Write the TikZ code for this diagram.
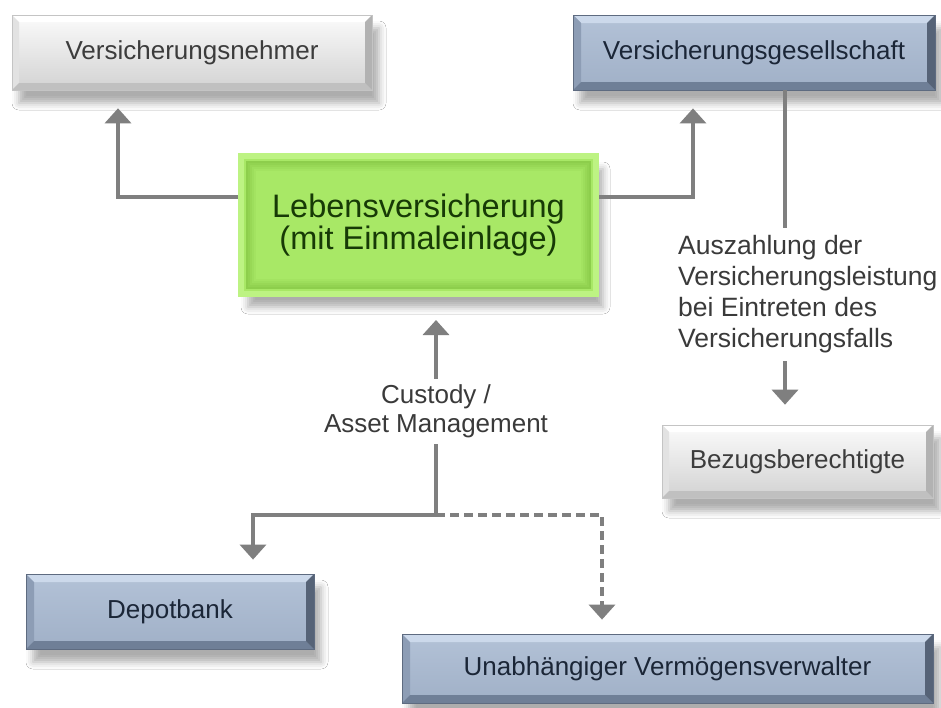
\documentclass[tikz,border=0pt]{standalone}
\usepackage{fontspec}
\setmainfont{Liberation Sans}
\usetikzlibrary{arrows.meta,calc,shadows.blur}
\definecolor{conngray}{HTML}{7F7F7F}
\definecolor{gTop}{HTML}{FBFBFB}
\definecolor{gBot}{HTML}{D2D2D2}
\definecolor{gEdge}{HTML}{C4C4C4}
\definecolor{gL}{HTML}{E2E2E2}
\definecolor{gB}{HTML}{C0C0C0}
\definecolor{gR}{HTML}{B2B2B2}
\definecolor{gText}{HTML}{3C3C3C}
\definecolor{bTop}{HTML}{B3C2D7}
\definecolor{bBot}{HTML}{A0B0C7}
\definecolor{bEdge}{HTML}{5E6B80}
\definecolor{bT}{HTML}{CCD9EB}
\definecolor{bL}{HTML}{8D9DB5}
\definecolor{bB}{HTML}{6F7F97}
\definecolor{bR}{HTML}{566377}
\definecolor{bText}{HTML}{1B2637}
\definecolor{lvGlow}{HTML}{BDF383}
\definecolor{lvEdge}{HTML}{A8E866}
\definecolor{lvFace}{HTML}{8DCE4C}
\definecolor{lvText}{HTML}{173A06}
\definecolor{lblText}{HTML}{3A3A3A}
\begin{document}
\begin{tikzpicture}[x=1pt,y=-1pt,
  conn/.style={draw=conngray, line width=3.5pt, -{Triangle[width=26pt,length=15pt]}},
  plainline/.style={draw=conngray, line width=3.5pt},
  softshadow/.style={blur shadow={shadow xshift=7pt, shadow yshift=-13pt, shadow blur radius=7pt, shadow opacity=32}},
  bevel/.style n args={5}{path picture={
    \coordinate (bnw) at (path picture bounding box.north west);
    \coordinate (bne) at (path picture bounding box.north east);
    \coordinate (bsw) at (path picture bounding box.south west);
    \coordinate (bse) at (path picture bounding box.south east);
    \fill[#2] (bnw) -- (bne) -- ([xshift=-#1,yshift=-#1]bne) -- ([xshift=#1,yshift=-#1]bnw) -- cycle;
    \fill[#3] (bnw) -- ([xshift=#1,yshift=-#1]bnw) -- ([xshift=#1,yshift=#1]bsw) -- (bsw) -- cycle;
    \fill[#4] (bsw) -- ([xshift=#1,yshift=#1]bsw) -- ([xshift=-#1,yshift=#1]bse) -- (bse) -- cycle;
    \fill[#5] (bne) -- (bse) -- ([xshift=-#1,yshift=#1]bse) -- ([xshift=-#1,yshift=-#1]bne) -- cycle;
  }},
  graybox/.style={rectangle, inner sep=0pt, top color=gTop, bottom color=gBot,
    draw=gEdge, line width=0.6pt, text=gText, font=\fontsize{26}{31}\selectfont,
    softshadow, bevel={7pt}{white}{gL}{gB}{gR}},
  bluebox/.style={rectangle, inner sep=0pt, top color=bTop, bottom color=bBot,
    draw=bEdge, line width=0.8pt, text=bText, font=\fontsize{26}{31}\selectfont,
    softshadow, bevel={8pt}{bT}{bL}{bB}{bR}},
  greenbox/.style={rectangle, inner sep=0pt, fill=lvEdge, draw=lvGlow, line width=6pt,
    text=lvText, font=\fontsize{32.5}{30}\selectfont, align=center, softshadow,
    path picture={
      \foreach \k [evaluate=\k as \m using 100-(\k-5)*10] in {5,7,...,15}{
        \fill[lvFace!\m!lvEdge] ([xshift=\k pt,yshift=-\k pt]path picture bounding box.north west) rectangle ([xshift=-\k pt,yshift=\k pt]path picture bounding box.south east);
      }
    }},
  lbl/.style={fill=white, text=lblText, inner xsep=4pt}
]
\fill[white] (0,0) rectangle (941,707);
\useasboundingbox (0,0) rectangle (941,707);

% boxes
\node[graybox, minimum width=360pt, minimum height=75pt] (VN) at (192,52.5) {Versicherungsnehmer};
\node[bluebox, minimum width=362pt, minimum height=75pt] (VG) at (754,52.5) {Versicherungsgesellschaft};
\node[greenbox, minimum width=355pt, minimum height=138pt] (LV) at (418.5,225) {Lebensversicherung\\(mit Einmaleinlage)};
\node[graybox, minimum width=271pt, minimum height=73pt] (BB) at (797.5,461.5) {Bezugsberechtigte};
\node[bluebox, minimum width=288pt, minimum height=75pt] (DB) at (170,611.5) {Depotbank};
\node[bluebox, minimum width=531pt, minimum height=69pt] (UV) at (667.5,668.5) {Unabhängiger Vermögensverwalter};

% labels
\node[lbl, align=left, anchor=north west, inner ysep=7.5pt, font=\fontsize{26.5}{31}\selectfont] (lblA) at (674,228)
  {Auszahlung der\\Versicherungsleistung\\bei Eintreten des\\Versicherungsfalls};
\node[lbl, align=center, inner ysep=6pt, font=\fontsize{26}{29}\selectfont] (lblC) at (436,411.5)
  {Custody /\\Asset Management};

% connectors
\coordinate (J) at (436,515);
\draw[conn] ([yshift=28pt]LV.west) -| ([xshift=-74pt,yshift=-18pt]VN.south);
\draw[conn] ([yshift=28pt]LV.east) -| ([xshift=-61pt,yshift=-18pt]VG.south);
\draw[plainline] ([xshift=31pt]VG.south) -- ([xshift=31pt]VG.south |- lblA.north);
\draw[conn] ([xshift=31pt]VG.south |- lblA.south) -- ([xshift=-12.5pt,yshift=20pt]BB.north);
\draw[plainline] (J) -- (J |- lblC.south);
\draw[conn] (J |- lblC.north) -- ([xshift=17.5pt,yshift=-23pt]LV.south);
\draw[conn] (J) -| ([xshift=83pt,yshift=14pt]DB.north);
\draw[conn, dash pattern=on 9pt off 5pt] (J) -| ([xshift=-65.5pt,yshift=14pt]UV.north);
\end{tikzpicture}
\end{document}
